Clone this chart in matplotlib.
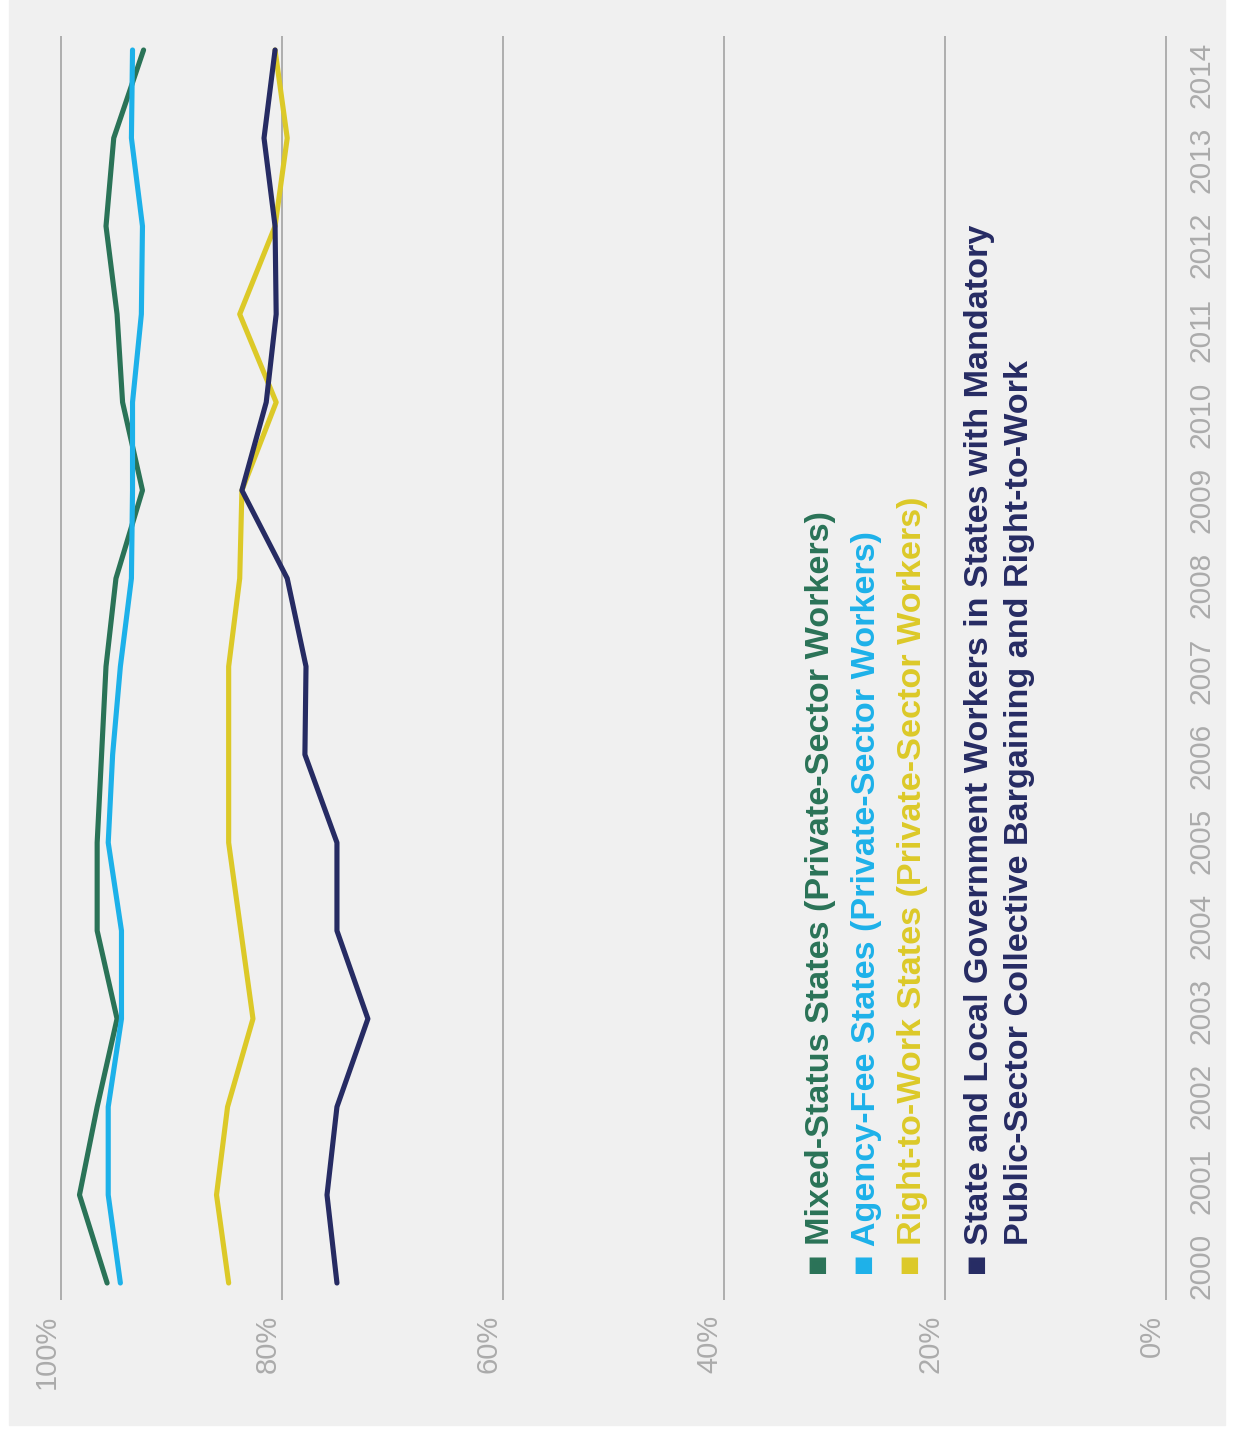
import numpy as np
import matplotlib
matplotlib.use("Agg")
import matplotlib.pyplot as plt
from matplotlib.patches import Rectangle
from matplotlib.transforms import blended_transform_factory

plt.rcParams['font.family'] = ['Liberation Sans', 'DejaVu Sans']

years = list(range(2000, 2015))
mixed_status = [95.8, 98.3, 96.7, 94.9, 96.7, 96.7, 96.3, 95.9, 95.0, 92.6, 94.4, 94.9, 95.9, 95.2, 92.5]
agency_fee = [94.6, 95.7, 95.7, 94.5, 94.5, 95.7, 95.3, 94.6, 93.6, 93.5, 93.5, 92.7, 92.6, 93.6, 93.5]
right_to_work = [84.8, 85.9, 84.9, 82.6, 83.7, 84.8, 84.8, 84.8, 83.8, 83.6, 80.5, 83.8, 80.6, 79.5, 80.6]
state_local = [75.0, 75.9, 75.0, 72.2, 75.0, 75.0, 77.9, 77.8, 79.5, 83.6, 81.4, 80.5, 80.6, 81.6, 80.6]

pct_ticks = [0, 20, 40, 60, 80, 100]
pct_labels = ['0%', '20%', '40%', '60%', '80%', '100%']

legend_lines = [
    ('\u25a0 Mixed-Status States (Private-Sector Workers)', '#2a7357'),
    ('\u25a0 Agency-Fee States (Private-Sector Workers)', '#1db1e9'),
    ('\u25a0 Right-to-Work States (Private-Sector Workers)', '#dcc928'),
    ('\u25a0 State and Local Government Workers in States with Mandatory', '#262b63'),
    ('Public-Sector Collective Bargaining and Right-to-Work', '#262b63'),
]

W, H = 1235, 1430
fig = plt.figure(figsize=(W / 100, H / 100), dpi=100, facecolor='white')
fig.patches.append(Rectangle((9 / W, 5 / H), (1225 - 9) / W, 1425 / H,
                             transform=fig.transFigure, color='#f0f0f0', zorder=-5))

# axes in pixel units: 100% at x=60.7, 0% at 1165.7 ; grid from y=36 to 1300
px_per = (1165.7 - 60.7) / 100
left = 60.7 - 2 * px_per
right = 1165.7 + 2 * px_per
ax = fig.add_axes([left / W, (H - 1300) / H, (right - left) / W, (1300 - 36) / H])
ax.set_facecolor('none')
ax.set_xlim(102, -2)
step = (1283 - 50) / 14
ax.set_ylim(2000 - (1300 - 1283) / step, 2014 + (50 - 36) / step)
for s in ax.spines.values():
    s.set_visible(False)
ax.set_xticks([])
ax.set_yticks([])

for t in pct_ticks:
    ax.axvline(t, color='#a8a8a8', lw=1.3, zorder=1)

lw = 3.7
ax.plot(mixed_status, years, color='#2a7357', lw=lw, solid_capstyle='round', zorder=3)
ax.plot(agency_fee, years, color='#1db1e9', lw=lw, solid_capstyle='round', zorder=3)
ax.plot(right_to_work, years, color='#dcc928', lw=lw, solid_capstyle='round', zorder=3)
ax.plot(state_local, years, color='#262b63', lw=lw, solid_capstyle='round', zorder=4)

# percent labels along the bottom
trans = blended_transform_factory(ax.transData, ax.transAxes)
for t, lab in zip(pct_ticks, pct_labels):
    ax.text(t, -0.012, lab, transform=trans, rotation=90, ha='right', va='top',
            fontsize=21, color='#ababab')

# year labels along the right edge
label_pos = np.linspace(2000.19, 2013.72, len(years))
trans2 = blended_transform_factory(fig.transFigure, ax.transData)
for p, yr in zip(label_pos, years):
    ax.text(1201.7 / W, p, str(yr), transform=trans2, rotation=90, ha='center', va='center',
            fontsize=21.5, color='#ababab')

# legend text
base_x = [829, 875, 921, 988, 1028]
start_y = [1275, 1275, 1275, 1275, 1245]
for (txt, col), bx, sy in zip(legend_lines, base_x, start_y):
    fig.text(bx / W, (H - sy) / H, txt, rotation=90, rotation_mode='anchor',
             ha='left', va='baseline', fontsize=24.6, fontweight='bold', color=col)

fig.savefig('out.png', dpi=100, facecolor='white')
